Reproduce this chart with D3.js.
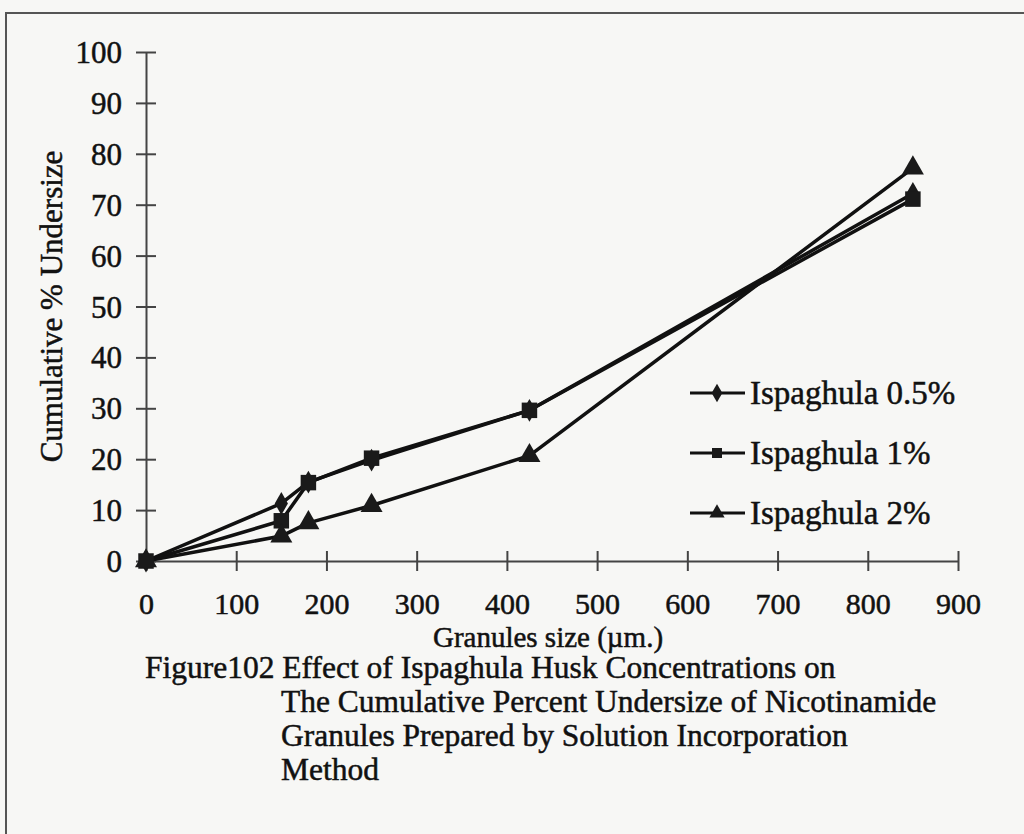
<!DOCTYPE html>
<meta charset="utf-8" />
<html>
<head>
<script src="https://d3js.org/d3.v7.min.js"></script>
<style>
  body { margin: 0; background: #f7f7f5; }
  text { font-family: "Liberation Serif", "Times New Roman", serif; fill: #111; stroke: #111; stroke-width: 0.5px; }
</style>
</head>
<body>
<script type="text/javascript">
// data
var sizes = [0, 150, 180, 250, 425, 850];
var isp05 = [0, 11.3, 15.5, 19.8, 29.6, 72.2];
var isp1 = [0, 7.9, 15.4, 20.2, 29.6, 71.1];
var isp2 = [0, 4.9, 7.5, 10.9, 20.7, 77.2];
var seriesNames = ['Ispaghula 0.5%', 'Ispaghula 1%', 'Ispaghula 2%'];
var xTicks = [0, 100, 200, 300, 400, 500, 600, 700, 800, 900];
var yTicks = [0, 10, 20, 30, 40, 50, 60, 70, 80, 90, 100];
var captionLines = [
  'Figure102 Effect of Ispaghula Husk Concentrations on',
  'The Cumulative Percent Undersize of Nicotinamide',
  'Granules Prepared by Solution Incorporation',
  'Method'
];

var width = 1024, height = 834;
var svg = d3.select('body').append('svg')
    .attr('width', width)
    .attr('height', height);

// page frame of the scan
svg.append('path')
    .attr('d', 'M6,' + height + 'V13H' + width)
    .attr('fill', 'none')
    .attr('stroke', '#555')
    .attr('stroke-width', 2);

var x = d3.scaleLinear().domain([0, 900]).range([146, 958]);
var y = d3.scaleLinear().domain([0, 100]).range([561, 52]);

// y axis
var yAxis = svg.append('g')
    .attr('transform', 'translate(' + x(0) + ',0)')
    .call(d3.axisLeft(y).tickValues(yTicks).tickSize(10).tickSizeOuter(0).tickPadding(14));
yAxis.selectAll('.tick line').attr('x2', 10).attr('x1', -10);
// x axis
var xAxis = svg.append('g')
    .attr('transform', 'translate(0,' + y(0) + ')')
    .call(d3.axisBottom(x).tickValues(xTicks).tickSize(10).tickSizeOuter(0).tickPadding(22));
xAxis.selectAll('.tick line').attr('y1', -10).attr('y2', 10);

svg.selectAll('.domain, .tick line')
    .attr('stroke', '#444')
    .attr('stroke-width', 2);
svg.selectAll('.tick text')
    .style('font-family', '"Liberation Serif", serif')
    .style('font-size', '31px')
    .attr('fill', '#111');
yAxis.selectAll('.tick text').attr('dy', '0.34em');
xAxis.selectAll('.tick text').style('font-size', '30px');

// axis titles
svg.append('text')
    .attr('transform', 'translate(62,' + y(50) + ') rotate(-90)')
    .attr('text-anchor', 'middle')
    .style('font-size', '31px')
    .text('Cumulative % Undersize');

svg.append('text')
    .attr('x', 548)
    .attr('y', 647)
    .attr('text-anchor', 'middle')
    .style('font-size', '29px')
    .text('Granules size (\u00b5m.)');

// series
var series = [
  {name: seriesNames[0], values: isp05, symbol: d3.symbolDiamond, area: 150},
  {name: seriesNames[1], values: isp1, symbol: d3.symbolSquare, area: 240},
  {name: seriesNames[2], values: isp2, symbol: d3.symbolTriangle, area: 210}
];

var line = d3.line()
    .x(function(d, i) { return x(sizes[i]); })
    .y(function(d) { return y(d); });

series.forEach(function(s) {
  svg.append('path')
      .attr('d', line(s.values))
      .attr('fill', 'none')
      .attr('stroke', '#111')
      .attr('stroke-width', 3.5)
      .attr('stroke-linejoin', 'round');
});
series.forEach(function(s) {
  svg.append('g').selectAll('path')
      .data(s.values)
      .enter()
      .append('path')
      .attr('transform', function(d, i) { return 'translate(' + x(sizes[i]) + ',' + y(d) + ')'; })
      .attr('d', d3.symbol().type(s.symbol).size(s.area))
      .attr('fill', '#1a1a1a');
});

// legend
var legend = svg.append('g').attr('transform', 'translate(690,393)');
var item = legend.selectAll('g')
    .data(series)
    .enter()
    .append('g')
    .attr('transform', function(d, i) { return 'translate(0,' + (i * 60) + ')'; });
item.append('line')
    .attr('x1', 0).attr('x2', 55)
    .attr('stroke', '#111')
    .attr('stroke-width', 3);
item.append('path')
    .attr('transform', 'translate(27,0)')
    .attr('d', function(d) { return d3.symbol().type(d.symbol).size(100)(); })
    .attr('fill', '#1a1a1a');
item.append('text')
    .attr('x', 60)
    .attr('dy', '0.34em')
    .style('font-size', '33px')
    .text(function(d) { return d.name; });

// caption
var caption = svg.append('g');
caption.selectAll('text')
    .data(captionLines)
    .enter()
    .append('text')
    .attr('x', function(d, i) { return i == 0 ? 145 : 281; })
    .attr('y', function(d, i) { return 678 + i * 34; })
    .style('font-size', '31.5px')
    .text(function(d) { return d; });
</script>
</body>
</html>
